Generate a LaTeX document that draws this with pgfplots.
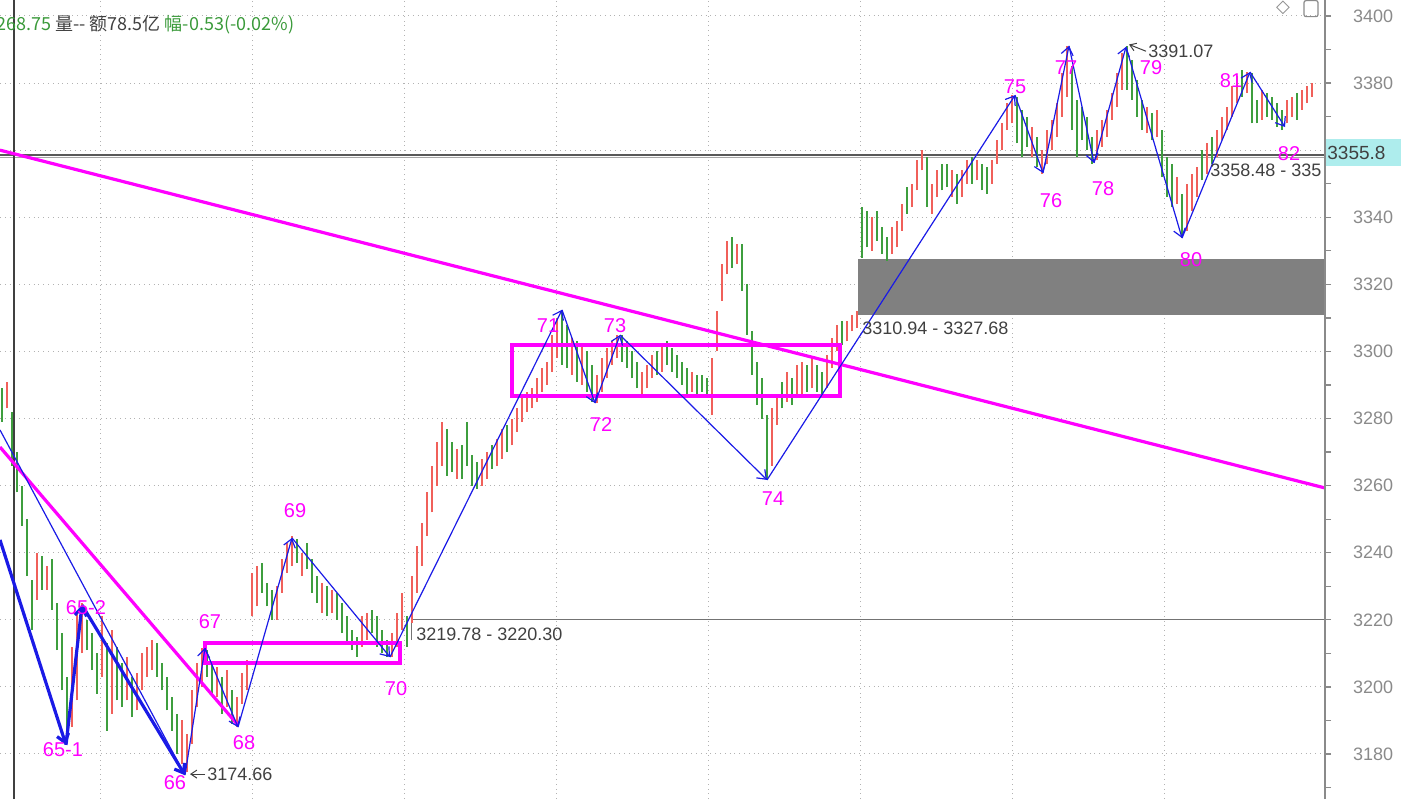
\documentclass[border=0pt]{standalone}
\usepackage{pgfplots}
\pgfplotsset{compat=1.18}
\usepackage{pgfplotstable}
\usepackage{fontspec}
\setmainfont{Liberation Sans}
\newfontfamily\cjk{Noto Sans CJK SC}
\newfontfamily\sym{DejaVu Sans}
\usetikzlibrary{arrows.meta}

\definecolor{upred}{HTML}{F0605A}
\definecolor{dngreen}{HTML}{3E9E3E}
\definecolor{zz}{HTML}{1A1AE6}
\definecolor{mag}{HTML}{FF00FF}
\definecolor{txt}{HTML}{404040}
\definecolor{tickc}{HTML}{8A8A8A}
\definecolor{band}{HTML}{808080}
\definecolor{lastpx}{HTML}{AEEDED}
\definecolor{topgreen}{HTML}{3A9A3A}

% up bars (red): x (pixel position), low, high
\pgfplotstableread{
x lo hi
7 3283 3291
37 3226 3240
47 3229 3236
72 3188 3212
77 3196 3222
82 3210 3225
102 3203 3221
112 3192 3217
127 3196 3209
137 3193 3204
142 3199 3210
147 3203 3212
152 3205 3214
182 3177 3190
187 3174.66 3186
192 3183 3199
197 3194 3207
202 3200 3211.6
217 3197 3206
227 3194 3205
237 3188 3197
242 3195 3204
247 3199 3208
252 3221 3234
257 3224 3236
277 3220 3230
282 3228 3238
287 3234 3243
292 3236 3245
302 3233 3240
322 3222 3231
332 3222 3229
362 3212 3221
367 3214 3222
392 3209 3216
397 3212 3222
402 3217 3228
412 3219 3233
417 3228 3242
422 3236 3249
427 3245 3258
432 3252 3266
437 3260 3273
442 3266 3279
457 3262 3271
482 3260 3268
487 3262 3270
497 3266 3274
502 3268 3277
512 3272 3280
517 3276 3283
522 3279 3286
527 3282 3288
532 3283 3289
537 3285 3292
542 3288 3295
547 3290 3297
552 3294 3305
557 3298 3310
572 3293 3304
582 3290 3302
597 3284.6 3293
602 3288 3298
607 3292 3301
612 3296 3303
617 3298 3305
642 3286 3294
647 3289 3296
652 3292 3299
662 3294 3302
692 3288 3294
712 3281 3298
717 3300 3312
722 3315 3326
727 3323 3333
737 3326 3332
772 3266 3283
777 3278 3287
787 3285 3294
797 3286 3296
802 3287 3297
812 3289 3298
827 3289 3299
832 3295 3304
837 3300 3308
847 3303 3309
852 3306 3311
857 3307 3312
872 3330 3340
892 3329 3337
897 3331 3339
902 3336 3344
912 3343 3350
917 3348 3357
922 3354 3360
932 3341 3350
937 3346 3354
952 3346 3354
962 3346 3354
967 3350 3357
977 3351 3357
992 3350 3357
997 3356 3363
1002 3360 3368
1007 3366 3374
1012 3368 3376.4
1032 3358 3367
1042 3353 3360
1047 3356 3366
1052 3360 3369
1057 3364 3374
1062 3370 3383
1067 3376 3391
1097 3357 3366
1102 3361 3369
1107 3364 3372
1112 3369 3377
1117 3373 3383
1122 3378 3389
1147 3365 3373
1157 3364 3372
1177 3344 3352
1187 3336 3350
1192 3342 3353
1197 3346 3355
1207 3353 3362
1217 3358 3366
1222 3363 3370
1227 3366 3373
1232 3370 3379
1237 3374 3382
1247 3377 3383.3
1262 3369 3378
1287 3368 3375
1292 3370 3376
1302 3372 3378
1307 3374 3379
1312 3376 3380
}\barsup

% down bars (green)
\pgfplotstableread{
x lo hi
2 3279 3289
12 3266 3282
17 3258 3270
22 3248 3260
27 3233 3250
32 3217 3232
42 3229 3239
52 3223 3238
57 3211 3225
62 3199 3216
67 3184 3203
87 3211 3220
92 3205 3216
97 3198 3210
107 3187 3213
117 3196 3212
122 3194 3207
132 3191 3203
157 3203 3213
162 3199 3207
167 3193 3203
172 3187 3197
177 3180 3192
207 3203 3211
212 3198 3207
222 3192 3203
232 3189 3199
262 3228 3237
267 3224 3231
272 3220 3229
297 3237 3244
307 3235 3243
312 3228 3238
317 3225 3233
327 3221 3230
337 3220 3228
342 3216 3225
347 3213 3221
352 3211 3217
357 3209 3215
372 3216 3223
377 3212 3221
382 3210 3217
387 3209 3214
407 3212 3221
447 3263 3277
452 3264 3273
462 3262 3272
467 3266 3279
472 3260 3269
477 3259 3267
492 3265 3272
507 3270 3278
562 3296 3312.4
567 3295 3308
577 3291 3303
587 3288 3300
592 3285 3296
622 3297 3305
627 3295 3303
632 3292 3300
637 3289 3297
657 3293 3300
667 3296 3303
672 3294 3301
677 3292 3299
682 3290 3297
687 3287 3295
697 3287 3293
702 3288 3293
707 3287 3292
732 3325 3334
742 3318 3332
747 3305 3320
752 3293 3306
757 3284 3297
762 3280 3292
767 3261.7 3281
782 3283 3291
792 3284 3292
807 3288 3296
817 3288 3296
822 3287 3294
842 3302 3309
862 3328 3343
867 3331 3342
877 3333 3342
882 3329 3337
887 3327 3334
907 3341 3349
927 3343 3358
942 3348 3356
947 3349 3356
957 3344 3353
972 3350 3358
982 3348 3356
987 3347 3355
1017 3362 3376
1022 3358 3372
1027 3361 3370
1037 3355 3364
1072 3366 3385
1077 3358 3375
1082 3363 3373
1087 3360 3370
1092 3356 3364
1127 3378 3391.07
1132 3375 3387
1137 3370 3381
1142 3366 3375
1152 3363 3371
1162 3352 3366
1167 3346 3358
1172 3343 3356
1182 3333.8 3347
1202 3351 3360
1212 3356 3364
1242 3376 3384
1252 3368 3383
1257 3368 3375
1267 3370 3377
1272 3369 3376
1277 3367 3374
1282 3366 3372
1297 3369 3377
}\barsdn

% thin wave lines, pivot to pivot
\pgfplotstableread{
x y x2 y2
0 3276.6 185 3173.7
185 3173.7 205 3211.6
205 3211.6 238 3188
238 3188 292 3244.4
292 3244.4 390 3208.9
390 3208.9 562 3312.4
562 3312.4 595 3284.6
595 3284.6 620 3304.9
620 3304.9 767 3261.7
767 3261.7 1015 3376.4
1015 3376.4 1043 3353.2
1043 3353.2 1069 3391.1
1069 3391.1 1094 3356.2
1094 3356.2 1126 3390.8
1126 3390.8 1182 3333.8
1182 3333.8 1250 3383.3
1250 3383.3 1285 3366.9
}\wave

% thick wave lines
\pgfplotstableread{
x y x2 y2
0 3243.8 66 3182.7
66 3182.7 82 3224.4
82 3224.4 185 3173.7
}\thick

\begin{document}
\begin{tikzpicture}
\begin{axis}[
  at={(0,0)}, anchor=south west,
  scale only axis, width=662.5pt, height=399.5pt,
  xmin=0, xmax=1325, ymin=3166.58, ymax=3404.77,
  axis line style={draw=none},
  xtick={100,252,404,556,708,860,1012,1164},
  xticklabels={},
  ytick={3180,3200,3220,3240,3260,3280,3300,3320,3340,3380,3400},
  minor ytick={3170,3190,...,3390,3360},
  ytick pos=right, yticklabel pos=right,
  tick align=outside, major tick length=3pt, minor tick length=3pt,
  tick style={color=tickc, line width=0.6pt},
  xtick style={draw=none},
  xmajorgrids, ymajorgrids,
  major grid style={dotted, black!30, line width=0.5pt},
  yticklabel style={font=\fontsize{9}{10}\selectfont, color=tickc, anchor=west, xshift=7.5pt},
  /pgf/number format/assume math mode=true,
  /pgf/number format/set thousands separator={},
  clip=false,
]
% support zone
\addplot[fill=band, draw=none] coordinates {(858,3310.94) (1325,3310.94) (1325,3327.68) (858,3327.68)};

% reference lines
\addplot[black!30, dotted, line width=0.5pt] coordinates {(0,3360) (1325,3360)};
\addplot[black!55, line width=0.5pt] coordinates {(411,3214) (411,3220) (1325,3220)};
\addplot[black!65, line width=0.8pt] coordinates {(0,3358.6) (1325,3358.6)};
\addplot[black!35, line width=0.5pt] coordinates {(0,3357.7) (1325,3357.7)};
\addplot[black!75, line width=0.8pt] coordinates {(14,3166.58) (14,3404.77)};

% price bars
\addplot[upred, line width=1.1pt,
  quiver={u=0, v=\thisrow{hi}-\thisrow{lo}}] table[x=x, y=lo] {\barsup};
\addplot[dngreen, line width=1.1pt,
  quiver={u=0, v=\thisrow{hi}-\thisrow{lo}}] table[x=x, y=lo] {\barsdn};

% magenta trend lines and boxes
\addplot[mag, line width=1.6pt] coordinates {(0,3360) (1325,3259.3)};
\addplot[mag, line width=1.6pt] coordinates {(0,3271.5) (238,3188.6)};
\addplot[mag, line width=1.8pt, line join=miter] coordinates {(205,3207.1) (400,3207.1) (400,3213.1) (205,3213.1) (205,3207.1) (400,3207.1)};
\addplot[mag, line width=1.8pt, line join=miter] coordinates {(512,3286.7) (840,3286.7) (840,3301.9) (512,3301.9) (512,3286.7) (840,3286.7)};

% wave arrows
\addplot[zz, line width=1.6pt, -{Straight Barb[length=4pt,width=6pt]},
  quiver={u=\thisrow{x2}-\thisrow{x}, v=\thisrow{y2}-\thisrow{y}}] table[x=x, y=y] {\thick};
\addplot[zz, line width=0.6pt, -{Straight Barb[length=4pt,width=6pt]},
  quiver={u=\thisrow{x2}-\thisrow{x}, v=\thisrow{y2}-\thisrow{y}}] table[x=x, y=y] {\wave};

% wave labels
\begin{scope}[every node/.style={text=mag, font=\fontsize{10}{12}\selectfont, inner sep=0pt}]
\node at (63,3181.2) {65-1};
\node at (86,3223.5) {65-2};
\node at (175,3171.4) {66};
\node at (210,3219.4) {67};
\node at (244,3183.3) {68};
\node at (295,3252.7) {69};
\node at (396,3199.4) {70};
\node at (548,3307.6) {71};
\node at (601,3278.1) {72};
\node at (615,3307.6) {73};
\node at (773,3256) {74};
\node at (1015,3378.8) {75};
\node at (1051,3345.1) {76};
\node at (1066,3384.5) {77};
\node at (1103,3348.4) {78};
\node at (1151,3384.6) {79};
\node at (1191,3327.3) {80};
\node at (1231,3380.6) {81};
\node at (1289,3358.9) {82};
\end{scope}

% value notes
\begin{scope}[every node/.style={text=txt, font=\fontsize{9}{11}\selectfont, inner sep=0pt, anchor=west}]
\draw[txt, line width=0.5pt, -{Straight Barb[length=3pt,width=4pt]}] (205,3174) -- (190,3174);
\node at (207,3174) {3174.66};
\node at (416,3215.8) {3219.78 - 3220.30};
\node at (862,3307) {3310.94 - 3327.68};
\draw[txt, line width=0.5pt, -{Straight Barb[length=3pt,width=4pt]}] (1146,3389.5) -- (1129,3391.5);
\node at (1148,3389.4) {3391.07};
\node at (1210,3354.1) {3358.48 - 335};
\end{scope}

% right axis line and last price box
\draw[tickc, line width=0.8pt] (rel axis cs:1,0) -- (rel axis cs:1,1);
\addplot[fill=lastpx, draw=none] coordinates {(1326,3355.4) (1401,3355.4) (1401,3363.2) (1326,3363.2)};
\node[text=txt, font=\fontsize{9.5}{11}\selectfont, anchor=west, inner sep=0pt] at (1327,3359.3) {3355.8};

% header line
\node[anchor=west, inner sep=0pt, font=\cjk\fontsize{9}{11}\selectfont] at (-4,3397.3)
  {\textcolor{topgreen}{268.75} \textcolor{txt}{量-- 额78.5亿} \textcolor{topgreen}{幅-0.53(-0.02\%)}};
\node[text=tickc, font=\sym\fontsize{9}{11}\selectfont, inner sep=0pt] at (1283,3402.4) {◇};
\node[draw=tickc, line width=0.6pt, rounded corners=1pt, minimum width=7pt, minimum height=8pt, inner sep=0pt] at (1311,3402.2) {};
\end{axis}
\pgfresetboundingbox
\path[use as bounding box] (0,0) rectangle (700.5pt,399.5pt);
\end{tikzpicture}
\end{document}
